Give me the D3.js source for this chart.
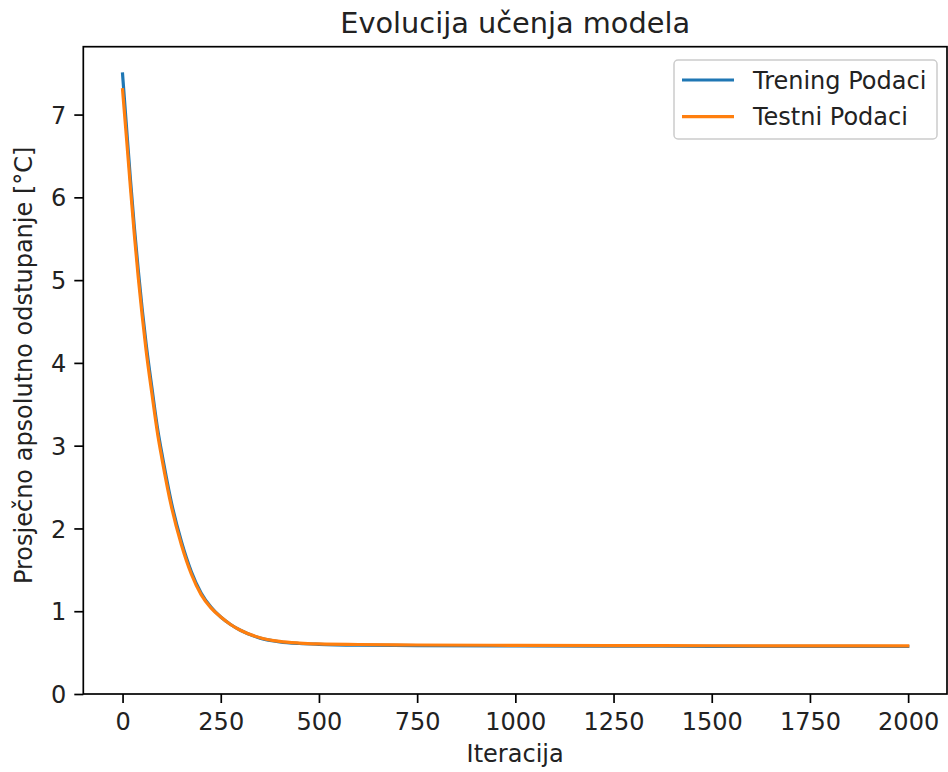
<!DOCTYPE html>
<html><head><meta charset="utf-8">
<script src="https://cdn.jsdelivr.net/npm/d3@7"></script>
<style>body{margin:0;background:#fff}svg{display:block;font-family:"DejaVu Sans",sans-serif}</style>
</head><body><svg id="c" width="948" height="772"></svg>
<script>
const title = "Evolucija učenja modela";
const xLabel = "Iteracija";
const yLabel = "Prosječno apsolutno odstupanje [°C]";
const seriesNames = ["Trening Podaci", "Testni Podaci"];
const seriesColors = ["#1f77b4", "#ff7f0e"];
const iterations = [0,10,20,30,40,50,60,75,90,100,125,150,175,200,225,250,275,300,350,400,450,500,600,750,1000,1250,1500,1750,1999];
const trainMAE = [7.49,6.85,6.22,5.64,5.12,4.65,4.23,3.69,3.18,2.91,2.30,1.84,1.48,1.22,1.05,0.93,0.84,0.77,0.675,0.63,0.61,0.60,0.59,0.585,0.58,0.578,0.576,0.575,0.574];
const testMAE = [7.30,6.72,6.12,5.55,5.03,4.57,4.15,3.62,3.12,2.85,2.25,1.80,1.45,1.20,1.04,0.93,0.84,0.77,0.68,0.635,0.615,0.605,0.598,0.592,0.588,0.585,0.583,0.582,0.581];
const xTicks = [0,250,500,750,1000,1250,1500,1750,2000];
const yTicks = [0,1,2,3,4,5,6,7];

const svg = d3.select("#c");
const L = 83.3, R = 947, T = 46.7, B = 694;
const x = d3.scaleLinear().domain([-99.95, 2098.95]).range([L, R]);
const y = d3.scaleLinear().domain([0, 7.82]).range([B, T]);
const fs = 24, tickLen = 9, pad = 8;

svg.append("clipPath").attr("id","clip").append("rect").attr("x",L).attr("y",T).attr("width",R-L).attr("height",B-T);

const series = [trainMAE, testMAE];
const line = d3.line().x((d,i)=>x(iterations[i])).y(d=>y(d)).curve(d3.curveMonotoneX);
series.forEach((s,k)=>{
  svg.append("path").attr("d", line(s)).attr("fill","none")
    .attr("stroke", seriesColors[k]).attr("stroke-width",3.2)
    .attr("stroke-linecap","square").attr("clip-path","url(#clip)");
});

// axes
const xAxis = d3.axisBottom(x).tickValues(xTicks).tickSize(tickLen).tickPadding(pad).tickFormat(d3.format("d"));
const yAxis = d3.axisLeft(y).tickValues(yTicks).tickSize(tickLen).tickPadding(pad).tickFormat(d3.format("d"));
const gx = svg.append("g").attr("transform",`translate(0,${B})`).call(xAxis);
const gy = svg.append("g").attr("transform",`translate(${L},0)`).call(yAxis);
[gx,gy].forEach(g=>{
  g.select(".domain").remove();
  g.selectAll(".tick line").attr("stroke","#000").attr("stroke-width",1.7);
  g.selectAll(".tick text").attr("font-size",fs).attr("font-family","DejaVu Sans").attr("fill","#222");
});
gx.selectAll(".tick text").attr("dy","0.78em");
gy.selectAll(".tick text").attr("dy","0.36em");

// spines
svg.append("rect").attr("x",L).attr("y",T).attr("width",R-L).attr("height",B-T)
  .attr("fill","none").attr("stroke","#000").attr("stroke-width",1.7);

// labels
svg.append("text").attr("x",(L+R)/2).attr("y",33).attr("text-anchor","middle")
  .attr("font-size",28.8).attr("fill","#222").text(title);
svg.append("text").attr("x",(L+R)/2).attr("y",762).attr("text-anchor","middle")
  .attr("font-size",fs).attr("fill","#222").text(xLabel);
svg.append("text").attr("transform",`translate(32,${(T+B)/2 - 5}) rotate(-90)`).attr("text-anchor","middle")
  .attr("font-size",fs).attr("fill","#222").text(yLabel);

// legend
const lg = svg.append("g");
lg.append("rect").attr("x",674).attr("y",60).attr("width",263).attr("height",79).attr("rx",4)
  .attr("fill","#fff").attr("fill-opacity",0.8).attr("stroke","#ccc").attr("stroke-width",1.5);
seriesNames.forEach((n,k)=>{
  const yy = 80 + k*36.7;
  lg.append("line").attr("x1",682).attr("x2",734).attr("y1",yy).attr("y2",yy)
    .attr("stroke",seriesColors[k]).attr("stroke-width",3.2);
  lg.append("text").attr("x",753).attr("y",yy).attr("dy","0.36em").attr("font-size",fs).attr("fill","#222").text(n);
});
</script></body></html>
